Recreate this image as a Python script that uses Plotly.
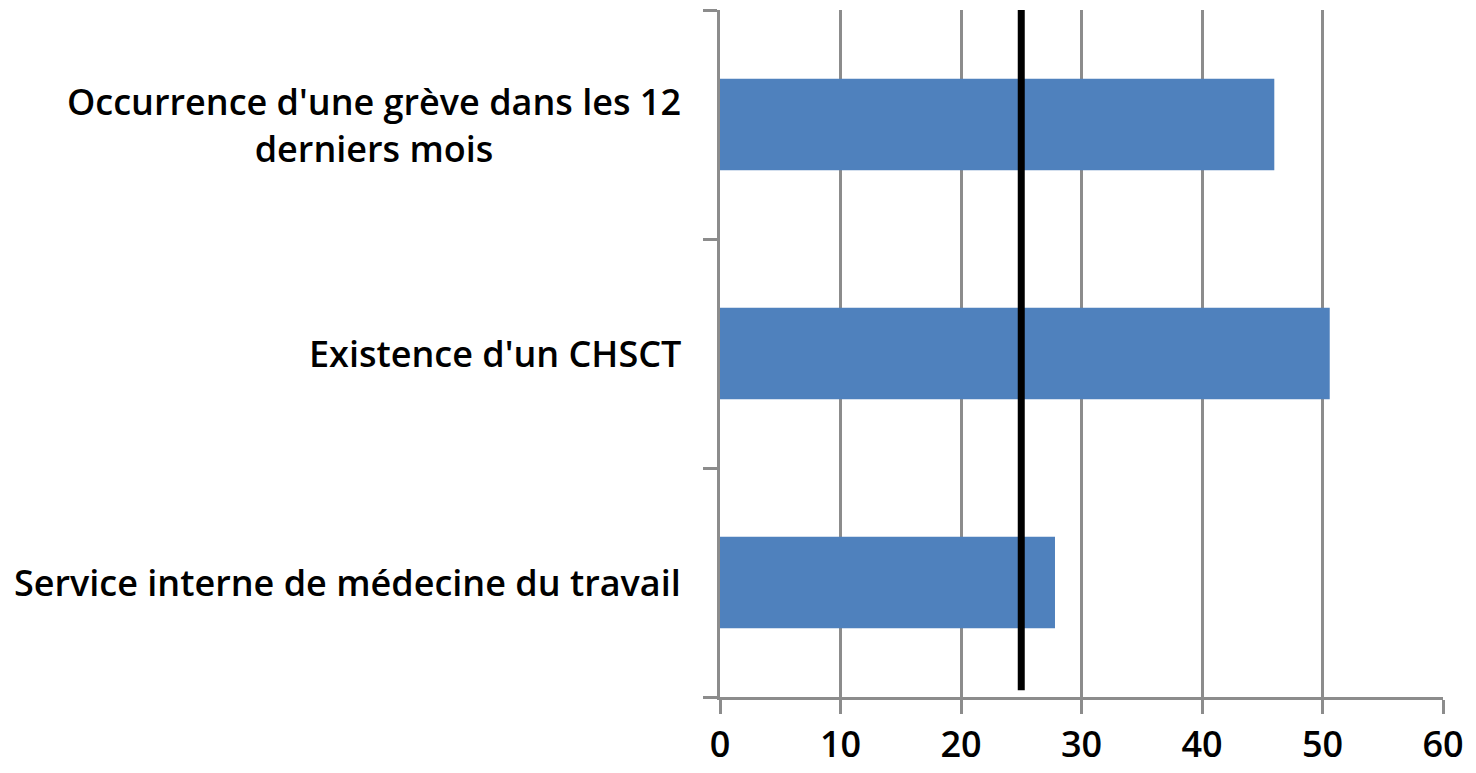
import plotly.graph_objects as go

categories = [
    "Service interne de médecine du travail",
    "Existence d'un CHSCT",
    "Occurrence d'une grève dans les 12<br>derniers mois",
]
values = [27.8, 50.6, 46.0]
reference_value = 25
x_ticks = [0, 10, 20, 30, 40, 50, 60]

FONT = "Open Sans"
GRID = "#8c8c8c"

fig = go.Figure()
fig.add_trace(go.Bar(
    y=categories, x=values, orientation="h",
    marker=dict(color="#4F81BD", line=dict(width=0)),
    width=0.4, showlegend=False,
))

fig.add_shape(type="line", xref="x", yref="paper",
              x0=reference_value, x1=reference_value, y0=0.01, y1=1,
              line=dict(color="black", width=7))

for c in categories:
    fig.add_annotation(text=c, xref="paper", yref="y", x=0, y=c,
                       xanchor="right", yanchor="middle", xshift=-37,
                       align="center", showarrow=False,
                       font=dict(family=FONT, size=36, color="black", weight=600))

fig.update_layout(
    width=1468, height=765,
    margin=dict(l=712, r=33, t=2, b=76),
    paper_bgcolor="white", plot_bgcolor="white",
    xaxis=dict(range=[0, 60], tickvals=x_ticks, showgrid=True, gridcolor=GRID, gridwidth=3,
               zeroline=False, showline=True, linecolor=GRID, linewidth=3,
               ticks="outside", ticklen=14, tickwidth=3, tickcolor=GRID,
               tickfont=dict(family=FONT, size=36, color="black", weight=600)),
    yaxis=dict(showticklabels=False, showline=True, linecolor=GRID, linewidth=3,
               ticks="outside", ticklen=14, tickwidth=3, tickcolor=GRID,
               tickson="boundaries", showgrid=False, zeroline=False),
)

fig.write_html("out.html")
